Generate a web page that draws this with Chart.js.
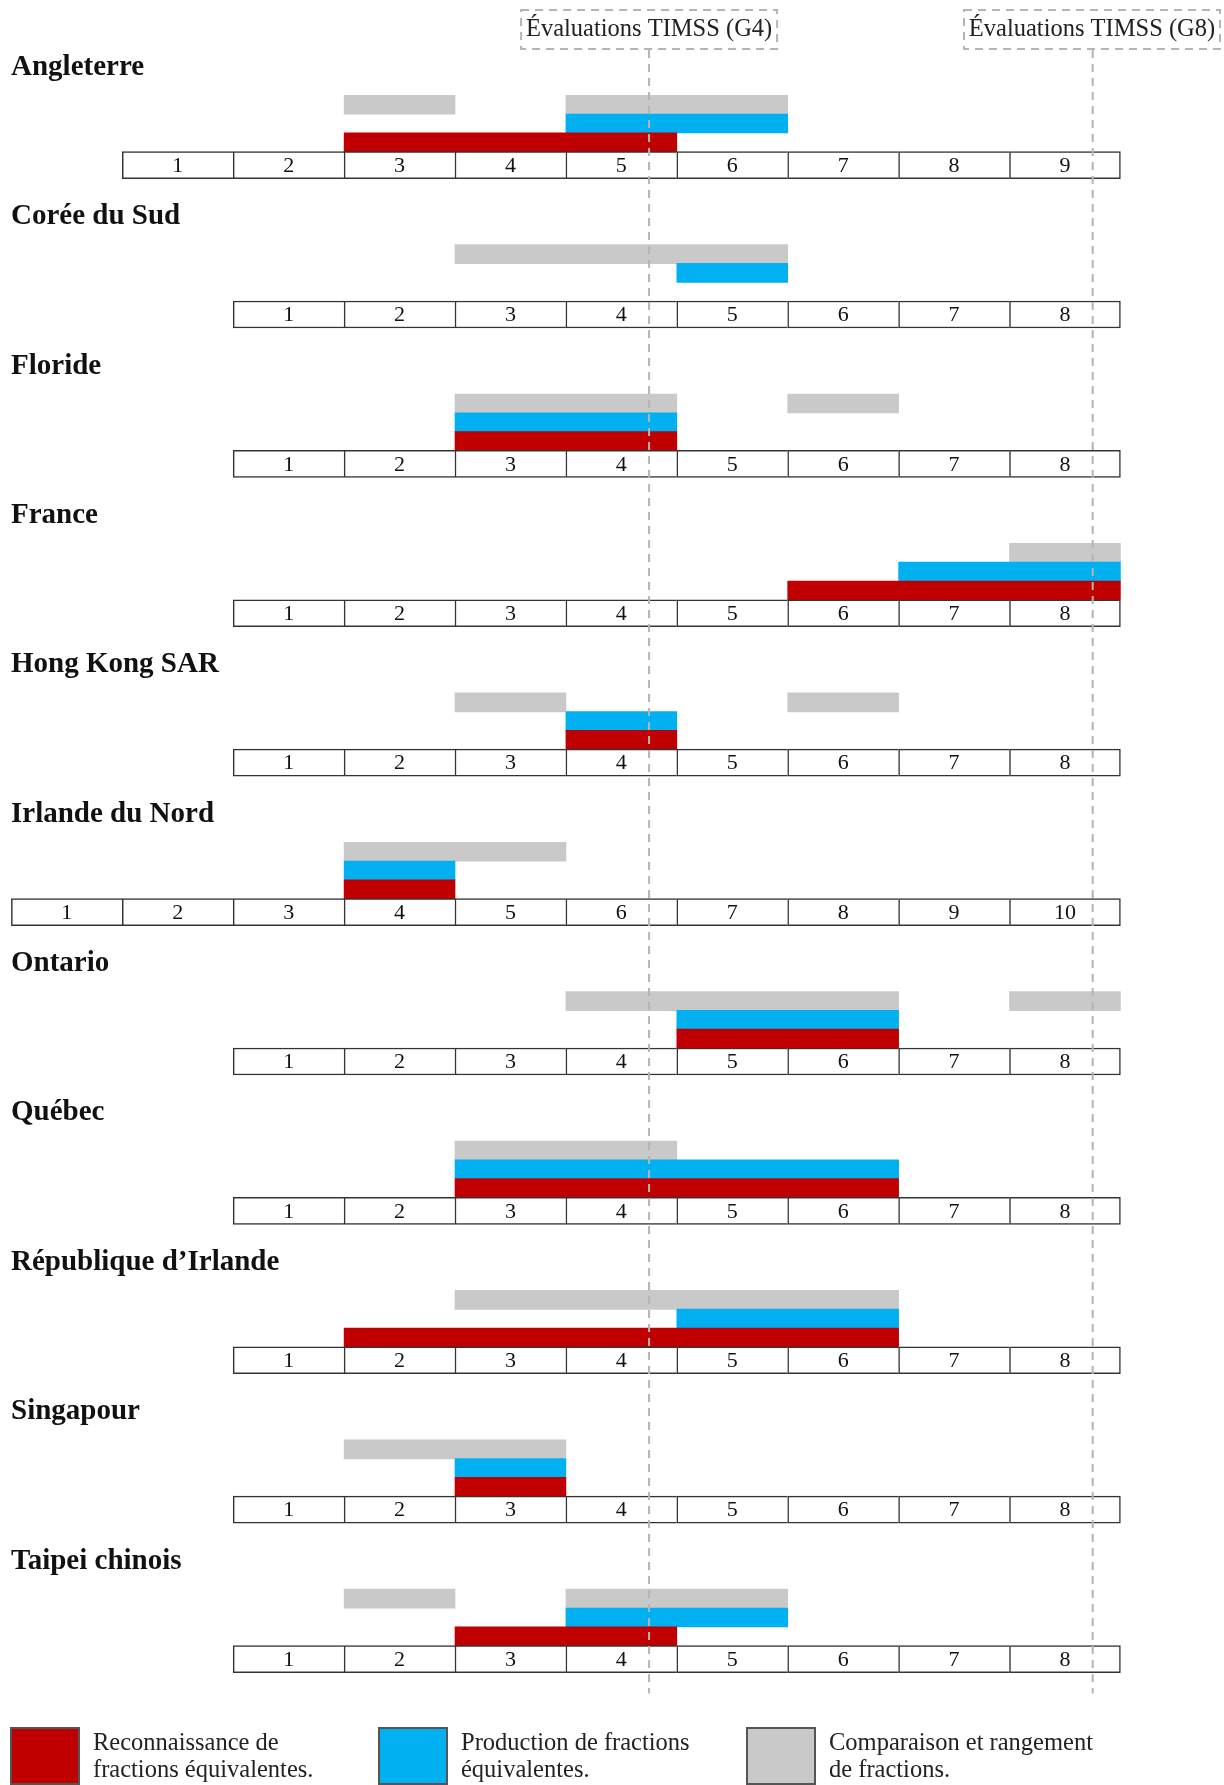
<!DOCTYPE html>
<html lang="fr">
<head>
<meta charset="utf-8">
<title>Fractions équivalentes – progression par année scolaire</title>
<script src="https://cdn.jsdelivr.net/npm/chart.js@4.4.1/dist/chart.umd.min.js"></script>
<style>
  html, body { margin: 0; padding: 0; background: #fff; }
  #wrap { width: 1224px; height: 1785px; }
</style>
</head>
<body>
<div id="wrap"><canvas id="chart" width="1224" height="1785"></canvas></div>
<script>
// one row per jurisdiction
const countries = ['Angleterre', 'Corée du Sud', 'Floride', 'France', 'Hong Kong SAR', 'Irlande du Nord',
    'Ontario', 'Québec', 'République d’Irlande', 'Singapour', 'Taipei chinois'];
const gradeCounts = [9, 8, 8, 8, 8, 10, 8, 8, 8, 8, 8];
// column of grade 1 (grades aligned by age)
const gradeShift = [1, 2, 2, 2, 2, 0, 2, 2, 2, 2, 2];

// [first grade, last grade] ranges per jurisdiction
const recognition = [[[3, 5]], [], [[3, 4]], [[6, 8]], [[4, 4]], [[4, 4]], [[5, 6]], [[3, 6]], [[2, 6]], [[3, 3]], [[3, 4]]];
const production = [[[5, 6]], [[5, 5]], [[3, 4]], [[7, 8]], [[4, 4]], [[4, 4]], [[5, 6]], [[3, 6]], [[5, 6]], [[3, 3]], [[4, 5]]];
const comparison = [[[3, 3], [5, 6]], [[3, 5]], [[3, 4], [6, 6]], [[8, 8]], [[3, 3], [6, 6]], [[4, 5]], [[4, 6], [8, 8]],
    [[3, 4]], [[3, 6]], [[2, 3]], [[2, 2], [4, 5]]];

const seriesLabels = [
    ['Reconnaissance de', 'fractions équivalentes.'],
    ['Production de fractions', 'équivalentes.'],
    ['Comparaison et rangement', 'de fractions.']
];
const seriesColors = ['#C00000', '#00B0F0', '#C9C9C9'];

// TIMSS assessment moments, in column units
const timssLabels = ['Évaluations TIMSS (G4)', 'Évaluations TIMSS (G8)'];
const timssCols = [5.75, 9.75];

// lane offsets inside a row (row units, cells at 0)
const lanes = { label: -0.655, comparison: -0.404, production: -0.2784, recognition: -0.1526 };

function toBars(series, lane) {
    const out = [];
    series.forEach((ranges, i) => {
        ranges.forEach(r => {
            out.push({ x: [gradeShift[i] + r[0] - 1, gradeShift[i] + r[1]], y: i + lane });
        });
    });
    return out;
}

const cells = [];
countries.forEach((c, i) => {
    for (let g = 1; g <= gradeCounts[i]; g++) {
        cells.push({ x: [gradeShift[i] + g - 1, gradeShift[i] + g], y: i, grade: g, last: g === gradeCounts[i] });
    }
});

const overlay = {
    id: 'overlay',
    afterDatasetsDraw(chart) {
        const ctx = chart.ctx;
        const xs = chart.scales.x;
        const ys = chart.scales.y;
        ctx.save();

        // grade numbers in cells
        ctx.font = '22px "Liberation Serif"';
        ctx.fillStyle = '#111';
        ctx.textAlign = 'center';
        ctx.textBaseline = 'middle';
        chart.getDatasetMeta(0).data.forEach((el, k) => {
            ctx.fillText(String(cells[k].grade), (el.x + el.base) / 2, el.y + 1);
        });

        // jurisdiction names
        ctx.font = 'bold 29px "Liberation Serif"';
        ctx.textAlign = 'left';
        countries.forEach((c, i) => {
            ctx.fillText(c, 11, ys.getPixelForValue(i + lanes.label));
        });

        // TIMSS dashed markers
        ctx.strokeStyle = '#B5B5B5';
        ctx.lineWidth = 2;
        ctx.setLineDash([8, 6]);
        const yEnd = ys.getPixelForValue(countries.length - 1 + 0.23);
        timssCols.forEach((v, k) => {
            const px = xs.getPixelForValue(v);
            ctx.beginPath();
            ctx.moveTo(px, 50);
            ctx.lineTo(px, yEnd);
            ctx.stroke();
            let left = px - 128;
            let right = px + 128;
            if (right > 1220) { left -= right - 1220; right = 1220; }
            ctx.strokeRect(left, 10, right - left, 39);
            ctx.fillStyle = '#222';
            ctx.font = '24.5px "Liberation Serif"';
            ctx.textAlign = 'center';
            ctx.fillText(timssLabels[k], (left + right) / 2, 30);
        });
        ctx.setLineDash([]);

        // legend
        const legendX = [11, 379, 747];
        seriesLabels.forEach((lines, k) => {
            ctx.fillStyle = seriesColors[k];
            ctx.fillRect(legendX[k], 1728, 68, 56);
            ctx.strokeStyle = '#555';
            ctx.lineWidth = 2;
            ctx.strokeRect(legendX[k], 1728, 68, 56);
            ctx.fillStyle = '#222';
            ctx.font = '24.5px "Liberation Serif"';
            ctx.textAlign = 'left';
            lines.forEach((t, j) => ctx.fillText(t, legendX[k] + 82, 1744 + j * 27));
        });
        ctx.restore();
    }
};

new Chart(document.getElementById('chart'), {
    type: 'bar',
    data: {
        datasets: [
            {
                label: 'Années',
                data: cells,
                backgroundColor: '#fff',
                borderColor: '#333',
                borderSkipped: false,
                borderWidth: ctx => ({ top: 1.5, bottom: 1.5, left: 1.5, right: ctx.raw && ctx.raw.last ? 1.5 : 0 }),
                barThickness: 27,
                grouped: false
            },
            {
                label: seriesLabels[0].join(' '),
                data: toBars(recognition, lanes.recognition),
                backgroundColor: seriesColors[0],
                borderWidth: 0,
                barThickness: 19,
                grouped: false
            },
            {
                label: seriesLabels[1].join(' '),
                data: toBars(production, lanes.production),
                backgroundColor: seriesColors[1],
                borderWidth: 0,
                barThickness: 19,
                grouped: false
            },
            {
                label: seriesLabels[2].join(' '),
                data: toBars(comparison, lanes.comparison),
                backgroundColor: seriesColors[2],
                borderWidth: 0,
                barThickness: 19,
                grouped: false
            }
        ]
    },
    options: {
        indexAxis: 'y',
        responsive: false,
        animation: false,
        layout: { padding: 0 },
        scales: {
            x: { type: 'linear', display: false, offset: false, min: -0.1028, max: 10.934 },
            y: { type: 'linear', display: false, offset: false, min: -1.105, max: 10.843, reverse: true }
        },
        plugins: {
            legend: { display: false },
            tooltip: { enabled: false }
        }
    },
    plugins: [overlay]
});
</script>
</body>
</html>
